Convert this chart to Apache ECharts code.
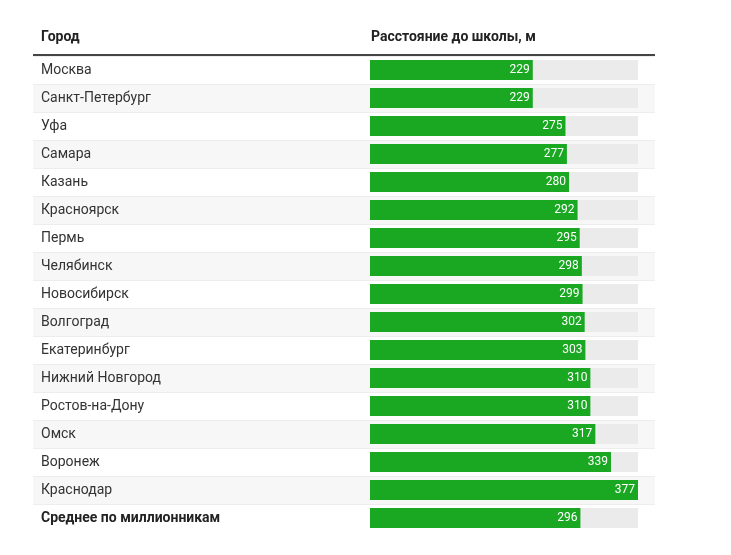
<!DOCTYPE html>
<html>
<head>
<meta charset="utf-8">
<script src="https://cdn.jsdelivr.net/npm/echarts@6/dist/echarts.min.js"></script>
<style>
  html, body { margin: 0; padding: 0; background: #fff; }
  #chart { width: 731px; height: 555px; }
</style>
</head>
<body>
<div id="chart"></div>
<script>
// Distance to school in million-plus cities
const cities = ['Москва', 'Санкт-Петербург', 'Уфа', 'Самара', 'Казань', 'Красноярск', 'Пермь',
  'Челябинск', 'Новосибирск', 'Волгоград', 'Екатеринбург', 'Нижний Новгород', 'Ростов-на-Дону',
  'Омск', 'Воронеж', 'Краснодар', 'Среднее по миллионникам'];
const distances = [229, 229, 275, 277, 280, 292, 295, 298, 299, 302, 303, 310, 310, 317, 339, 377, 296];
const headers = ['Город', 'Расстояние до школы, м'];
const avgLabel = 'Среднее по миллионникам';

const chart = echarts.init(document.getElementById('chart'));
const font = 'Roboto, "Noto Sans", sans-serif';
const gridTop = 56, rowH = 28;
const gridH = rowH * cities.length;

chart.setOption({
  backgroundColor: '#fff',
  animation: false,
  textStyle: { fontFamily: font },
  grid: [
    { left: 33, right: 76, top: gridTop, height: gridH },
    { left: 370, right: 93, top: gridTop, height: gridH },
  ],
  xAxis: [
    { gridIndex: 0, type: 'value', min: 0, max: 1, show: false },
    { gridIndex: 1, type: 'value', min: 0, max: 377, show: false },
  ],
  yAxis: [
    {
      gridIndex: 0, type: 'category', data: cities, inverse: true,
      axisLine: { show: false }, axisTick: { show: false },
      splitArea: { show: true, areaStyle: { color: ['#ffffff', '#f7f7f7'] } },
      splitLine: { show: true, lineStyle: { color: '#ededed', width: 1 } },
      axisLabel: {
        inside: true, margin: 8, color: '#333', fontSize: 14, fontFamily: font,
        formatter: v => v === avgLabel ? '{b|' + v + '}' : v,
        rich: { b: { fontWeight: 'bold', color: '#222', fontSize: 14, fontFamily: font } },
      },
    },
    {
      gridIndex: 1, type: 'category', data: cities, inverse: true, show: false,
    },
  ],
  series: [{
    type: 'bar', xAxisIndex: 1, yAxisIndex: 1, data: distances, barWidth: 20,
    itemStyle: { color: '#1aa822' },
    showBackground: true,
    backgroundStyle: { color: '#ebebeb' },
    label: {
      show: true, position: 'insideRight', distance: 3,
      color: '#fff', fontSize: 12, fontFamily: font,
    },
  }],
  graphic: [
    { type: 'text', left: 41, top: 30, style: { text: headers[0], fontSize: 14, fontWeight: 'bold', fill: '#222', fontFamily: font } },
    { type: 'text', left: 371, top: 30, style: { text: headers[1], fontSize: 14, fontWeight: 'bold', fill: '#222', fontFamily: font } },
    { type: 'line', shape: { x1: 33, y1: 55, x2: 655, y2: 55 }, style: { stroke: '#444', lineWidth: 2 } },
    // no separator under the last row
    { type: 'line', z: 10, shape: { x1: 30, y1: gridTop + gridH, x2: 660, y2: gridTop + gridH }, style: { stroke: '#fff', lineWidth: 2 } },
  ],
});
</script>
</body>
</html>
